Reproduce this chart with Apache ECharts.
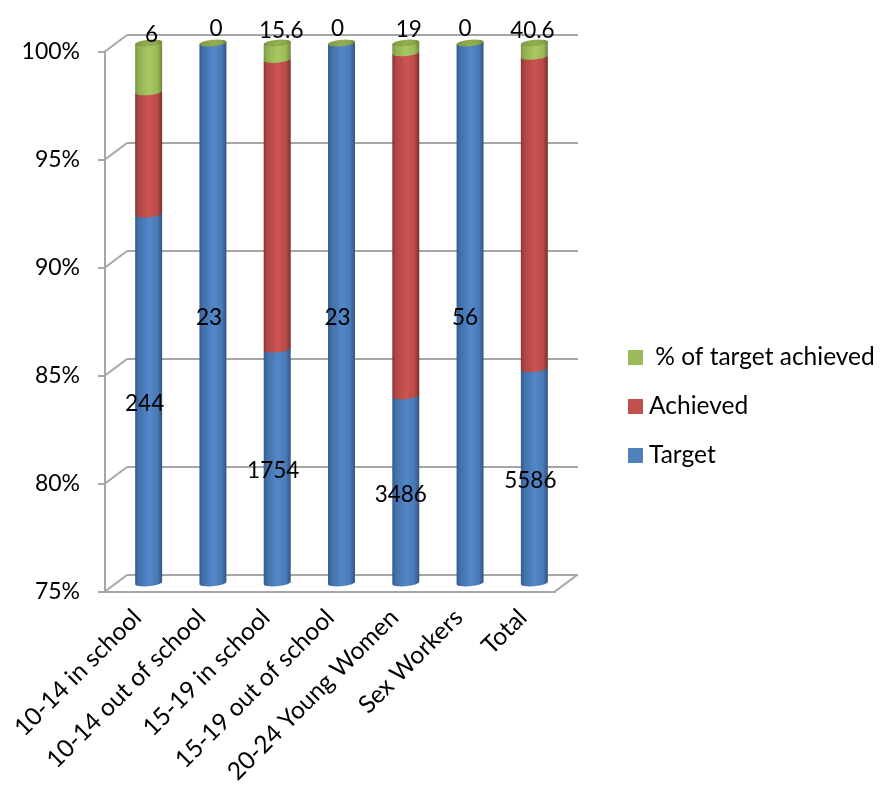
<!DOCTYPE html>
<html>
<head>
<meta charset="utf-8">
<style>html,body{margin:0;padding:0;background:#fff}#chart{width:894px;height:795px}</style>
<script src="https://cdn.jsdelivr.net/npm/echarts@6/dist/echarts.min.js"></script>
</head>
<body>
<div id="chart"></div>
<script>
// Programme reach per group: raw counts, shown as 100% stacked cylinders.
const categories = ['10-14 in school', '10-14 out of school', '15-19 in school', '15-19 out of school', '20-24 Young Women', 'Sex Workers', 'Total'];
const target = [244, 23, 1754, 23, 3486, 56, 5586];
const achieved = [15, 0, 274, 0, 662, 0, 951];
const percentAchieved = [6, 0, 15.6, 0, 19, 0, 40.6];
const percentTicks = [75, 80, 85, 90, 95, 100];

// Sideways nudges for the value labels, one per column.
const targetLabelShift = [-4, -4, -4, -4, -5, -5, -4];
const topLabelShift = [3, 3, 4, -4, 3, -5, -2];

const FONT = 'Lato';
const GRAY = '#a6a6a6';
const DEPTH_X = 22, DEPTH_Y = 16.5;
const RX = 13.5, RY = 3.2, TILT = 1.2;

const gradient = stops => new echarts.graphic.LinearGradient(0, 0, 1, 0,
  stops.map((c, i) => ({ offset: [0, 0.14, 0.52, 0.82, 1][i], color: c })));

const blueFill = ['#335d90', '#4371aa', '#5387c8', '#4a7ab6', '#33557e'];
const redFill = ['#8a3533', '#ae4745', '#cb5451', '#bb4c49', '#79302e'];
const greenFill = ['#7d9846', '#93b153', '#a6c960', '#9abb58', '#70873d'];
const capFill = ['#778f3e', '#869f48', '#93ad50', '#8aa44a', '#6f863a'];

// Cumulative share of each column, in percent.
const totals = categories.map((_, i) => target[i] + achieved[i] + percentAchieved[i]);
function stackRows(values, below) {
  return values.map((v, i) => {
    const start = below.reduce((s, arr) => s + arr[i], 0) / totals[i] * 100;
    return [i, start, start + v / totals[i] * 100, v];
  });
}

function ellipsePoints(cx, cy, from, to, n) {
  const pts = [];
  for (let k = 0; k <= n; k++) {
    const t = from + (to - from) * k / n;
    pts.push([cx + RX * Math.cos(t), cy + RY * Math.sin(t) - TILT * Math.cos(t)]);
  }
  return pts;
}

// One cylinder segment: a body with a curved lower rim, plus an optional lid and value label.
function cylinderSeries(name, color, fill, rows, opts) {
  return {
    type: 'custom', name, xAxisIndex: 2, yAxisIndex: 2, coordinateSystem: 'cartesian2d',
    itemStyle: { color }, clip: false, z: 3,
    data: rows,
    encode: { x: 0, y: [1, 2] },
    renderItem(params, api) {
      const i = api.value(0), low = Math.max(api.value(1), 75), high = api.value(2), raw = api.value(3);
      const base = api.coord([i, low]), top = api.coord([i, high]);
      const cx = base[0], yLow = base[1], yTop = top[1];
      const children = [];
      if (raw > 0) {
        const pts = [[cx - RX, yTop + TILT], [cx + RX, yTop - TILT]]
          .concat(ellipsePoints(cx, yLow, 0, Math.PI, 24));
        children.push({ type: 'polygon', shape: { points: pts }, style: { fill: gradient(fill) } });
      }
      if (opts.cap) {
        children.push({
          type: 'polygon', shape: { points: ellipsePoints(cx, yTop, 0, Math.PI * 2, 48) },
          style: { fill: gradient(capFill) }
        });
      }
      if (opts.label === 'middle') {
        children.push({
          type: 'text', z2: 20,
          style: {
            text: String(raw), x: cx + targetLabelShift[i], y: (yLow + yTop) / 2 + 5,
            align: 'center', verticalAlign: 'middle', fill: '#000', font: '22.5px ' + FONT
          }
        });
      } else if (opts.label === 'above') {
        children.push({
          type: 'text', z2: 20,
          style: {
            text: String(raw), x: cx + topLabelShift[i], y: yTop - 14 + (yLow - yTop) * 0.12,
            align: 'center', verticalAlign: 'middle', fill: '#000', font: '22.5px ' + FONT
          }
        });
      }
      return { type: 'group', children };
    }
  };
}

const hiddenX = gridIndex => ({ type: 'category', gridIndex, data: categories, show: false });
const hiddenY = (gridIndex, splitLine) => ({
  type: 'value', gridIndex, min: 75, max: 100, interval: 5,
  axisLine: { show: false }, axisTick: { show: false }, axisLabel: { show: false },
  splitLine: { show: splitLine, lineStyle: { color: GRAY, width: 2 } }
});

// Slanted side-wall and floor edges, running from the front plane back to the rear wall.
const wallEdges = percentTicks.map(v => [0, v, -1]).concat([[categories.length - 1, 75, 1]]);

const option = {
  animation: false,
  backgroundColor: '#fff',
  grid: [
    { left: 127, top: 35, width: 451, height: 540 },
    { left: 105, top: 51.5, width: 450, height: 540 },
    { left: 116.5, top: 43, width: 450, height: 540 }
  ],
  xAxis: [
    hiddenX(0),
    {
      type: 'category', gridIndex: 1, data: categories,
      axisLine: { onZero: false, lineStyle: { color: GRAY, width: 2 } },
      axisTick: { length: 7, alignWithLabel: false, lineStyle: { color: GRAY, width: 2 } },
      axisLabel: { interval: 0, rotate: 45, margin: 22, color: '#000', fontFamily: FONT, fontSize: 24.5 }
    },
    hiddenX(2)
  ],
  yAxis: [
    hiddenY(0, true),
    {
      type: 'value', gridIndex: 1, min: 75, max: 100, interval: 5,
      axisLine: { show: true, onZero: false, lineStyle: { color: GRAY, width: 2 } },
      axisTick: { show: true, length: 7, lineStyle: { color: GRAY, width: 2 } },
      axisLabel: { margin: 25, color: '#000', fontFamily: FONT, fontSize: 23, formatter: '{value}%' },
      splitLine: { show: false }
    },
    hiddenY(2, false)
  ],
  legend: {
    orient: 'vertical', left: 623, top: 340, itemWidth: 15, itemHeight: 15, itemGap: 24,
    selectedMode: false, icon: 'rect',
    textStyle: { color: '#000', fontFamily: FONT, fontSize: 24.5, padding: [0, 0, 0, 1] },
    data: [' % of target achieved', 'Achieved', 'Target']
  },
  series: [
    {
      type: 'custom', xAxisIndex: 1, yAxisIndex: 1, clip: false, silent: true, z: 1,
      data: wallEdges,
      encode: { x: 0, y: 1 },
      renderItem(params, api) {
        const c = api.coord([api.value(0), api.value(1)]);
        const x = c[0] + api.value(2) * api.size([1, 0])[0] / 2;
        return {
          type: 'line',
          shape: { x1: x, y1: c[1], x2: x + DEPTH_X, y2: c[1] - DEPTH_Y },
          style: { stroke: GRAY, lineWidth: 2 }
        };
      }
    },
    cylinderSeries('Target', '#4f81bd', blueFill, stackRows(target, []), { label: 'middle' }),
    cylinderSeries('Achieved', '#c0504d', redFill, stackRows(achieved, [target]), {}),
    cylinderSeries(' % of target achieved', '#9bbb59', greenFill, stackRows(percentAchieved, [target, achieved]), { cap: true, label: 'above' })
  ]
};

echarts.init(document.getElementById('chart'), null, { renderer: 'canvas' }).setOption(option);
</script>
</body>
</html>
